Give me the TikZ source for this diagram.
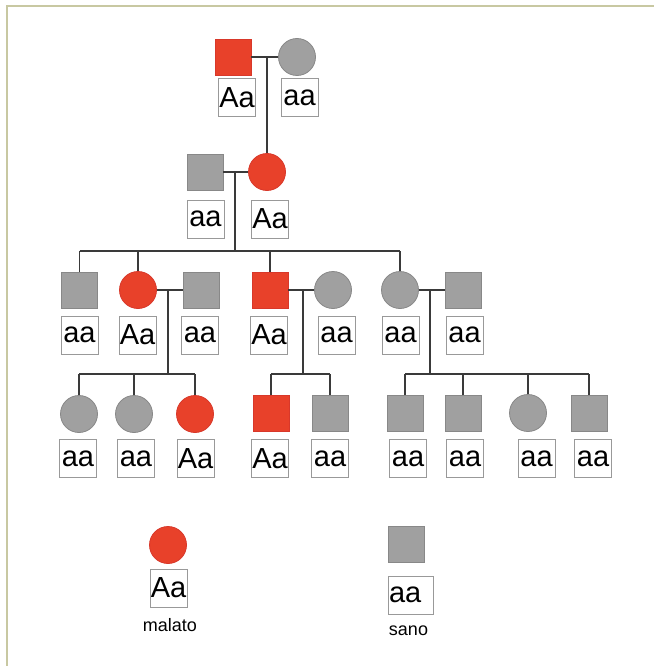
\documentclass[tikz,border=0pt]{standalone}
\usepackage{fontspec}
\setmainfont{Liberation Sans}
\definecolor{redc}{HTML}{E8412A}
\definecolor{redd}{HTML}{D8382A}
\definecolor{grayc}{HTML}{A0A0A0}
\definecolor{grayd}{HTML}{888888}
\definecolor{linec}{HTML}{3A3A3A}
\definecolor{labd}{HTML}{999999}
\definecolor{framec}{HTML}{C8C8A2}
\begin{document}
\begin{tikzpicture}[x=1pt,y=-1pt,
  sq/.style={rectangle,minimum size=36pt,inner sep=0pt,line width=0.8pt},
  ci/.style={circle,minimum size=37pt,inner sep=0pt,line width=0.8pt},
  aff/.style={fill=redc,draw=redd},
  una/.style={fill=grayc,draw=grayd},
  lab/.style={draw=labd,line width=0.9pt,minimum width=37pt,minimum height=38pt,inner sep=0pt,font=\fontsize{29}{29}\selectfont},
  conn/.style={draw=linec,line width=1.8pt},
  leg/.style={font=\fontsize{18}{18}\selectfont}]
\useasboundingbox (0,0) rectangle (654,666);
\fill[white] (0,0) rectangle (654,666);
\draw[framec,line width=2pt] (6.5,666) -- (6.5,6.5) -- (654,6.5);

% Generation I
\node[sq,aff] (m1) at (233,57) {};
\node[ci,una] (f1) at (297,57) {};
\node[lab] (lm1) at (237,97.5) {Aa};
\node[lab] (lf1) at (299.5,97.5) {aa};
\coordinate (c1) at (267,57);

% Generation II
\node[sq,una] (m2) at (205,172) {};
\node[ci,aff] (f2) at (267,172) {};
\node[lab] (lm2) at (205.5,219) {aa};
\node[lab] (lf2) at (270,219) {Aa};
\coordinate (c2) at (235,172);
\coordinate (b1) at (235,251);

% Generation III
\node[sq,una] (p31) at (79.5,290) {};
\node[ci,aff] (p32) at (138,290) {};
\node[sq,una] (p33) at (201,290) {};
\node[sq,aff] (p34) at (270,290) {};
\node[ci,una] (p35) at (333,290) {};
\node[ci,una] (p36) at (400,290) {};
\node[sq,una] (p37) at (463,290) {};
\node[lab] (l31) at (79.5,335) {aa};
\node[lab] (l32) at (137.5,335) {Aa};
\node[lab] (l33) at (200,335) {aa};
\node[lab] (l34) at (269,335) {Aa};
\node[lab] (l35) at (336.5,335) {aa};
\node[lab] (l36) at (400.5,335) {aa};
\node[lab] (l37) at (464.5,335) {aa};
\coordinate (c3a) at (168,290);
\coordinate (c3b) at (303,290);
\coordinate (c3c) at (430,290);
\coordinate (b2) at (0,374);

% Generation IV
\node[ci,una] (p41) at (79,414) {};
\node[ci,una] (p42) at (134,414) {};
\node[ci,aff] (p43) at (195,414) {};
\node[sq,aff] (p44) at (271,413) {};
\node[sq,una] (p45) at (330,413) {};
\node[sq,una] (p46) at (405,413) {};
\node[sq,una] (p47) at (463,413) {};
\node[ci,una] (p48) at (528,413) {};
\node[sq,una] (p49) at (589,413) {};
\node[lab] (l41) at (78,458.5) {aa};
\node[lab] (l42) at (136,458.5) {aa};
\node[lab] (l43) at (195.5,458.5) {Aa};
\node[lab] (l44) at (270,458.5) {Aa};
\node[lab] (l45) at (330,458.5) {aa};
\node[lab] (l46) at (408,458.5) {aa};
\node[lab] (l47) at (465,458.5) {aa};
\node[lab] (l48) at (536.5,458.5) {aa};
\node[lab] (l49) at (593,458.5) {aa};

% Connectors
\draw[conn] (m1.east) -- (f1.west);
\draw[conn] (c1) -- (f2.north);
\draw[conn] (m2.east) -- (f2.west);
\draw[conn] (c2) -- (b1);
\draw[conn] (p31.north |- b1) -- (p36.north |- b1);
\foreach \n in {p31,p32,p34,p36} \draw[conn] (\n.north) -- (\n.north |- b1);
\draw[conn] (p32.east) -- (p33.west);
\draw[conn] (p34.east) -- (p35.west);
\draw[conn] (p36.east) -- (p37.west);
\draw[conn] (c3a) -- (c3a |- b2);
\draw[conn] (c3b) -- (c3b |- b2);
\draw[conn] (c3c) -- (c3c |- b2);
\draw[conn] (p41.north |- b2) -- (p43.north |- b2);
\draw[conn] (p44.north |- b2) -- (p45.north |- b2);
\draw[conn] (p46.north |- b2) -- (p49.north |- b2);
\foreach \n in {p41,p42,p43,p44,p45,p46,p47,p48,p49} \draw[conn] (\n.north) -- (\n.north |- b2);

% Legend
\node[ci,aff] (g1) at (168,545) {};
\node[lab] (gl1) at (168.5,588) {Aa};
\node[leg] (gt1) at (170,625) {malato};
\node[sq,una] (g2) at (406.5,544.5) {};
\node[lab,minimum width=45pt,text width=43pt,align=left,inner xsep=1pt] (gl2) at (410.5,595) {aa};
\node[leg] (gt2) at (408.5,631) {sano};
\end{tikzpicture}
\end{document}
